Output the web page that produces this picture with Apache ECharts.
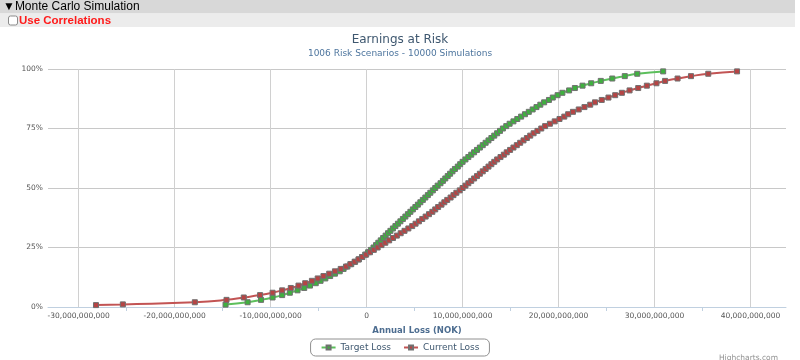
<!DOCTYPE html>
<html>
<head>
<meta charset="utf-8">
<script src="https://cdn.jsdelivr.net/npm/echarts@6/dist/echarts.min.js"></script>
<style>
html,body{margin:0;padding:0;background:#fff;}
#chart{width:800px;height:360px;}
</style>
</head>
<body>
<div id="chart"></div>
<script>
// Cumulative probability (%) and annual loss (billions NOK)
const targetPct = [1,2,3,4,5,6,7,8,9,10,11,12,13,14,15,16,17,18,19,20,21,22,23,24,25,26,27,28,29,30,31,32,33,34,35,36,37,38,39,40,41,42,43,44,45,46,47,48,49,50,51,52,53,54,55,56,57,58,59,60,61,62,63,64,65,66,67,68,69,70,71,72,73,74,75,76,77,78,79,80,81,82,83,84,85,86,87,88,89,90,91,92,93,94,95,96,97,98,99];
const targetLossBn = [-14.7,-12.4,-11.0,-9.8,-8.8,-8.0,-7.2,-6.5,-5.9,-5.3,-4.8,-4.3,-3.8,-3.3,-2.8,-2.4,-2.0,-1.6,-1.2,-0.8,-0.47,-0.15,0.15,0.45,0.72,0.98,1.22,1.47,1.72,1.98,2.23,2.48,2.74,3.0,3.26,3.52,3.78,4.04,4.3,4.56,4.82,5.08,5.34,5.6,5.86,6.12,6.38,6.64,6.9,7.15,7.4,7.7,7.95,8.2,8.45,8.7,8.95,9.2,9.5,9.75,10.0,10.3,10.6,10.9,11.2,11.5,11.8,12.1,12.4,12.7,13.0,13.3,13.6,13.9,14.2,14.55,14.9,15.3,15.7,16.1,16.5,16.9,17.3,17.7,18.1,18.5,19.0,19.4,19.9,20.4,21.1,21.7,22.5,23.4,24.4,25.6,26.9,28.2,30.9];

const currentPct = [0.8,1.1,2,3,4,5,6,7,8,9,10,11,12,13,14,15,16,17,18,19,20,21,22,23,24,25,26,27,28,29,30,31,32,33,34,35,36,37,38,39,40,41,42,43,44,45,46,47,48,49,50,51,52,53,54,55,56,57,58,59,60,61,62,63,64,65,66,67,68,69,70,71,72,73,74,75,76,77,78,79,80,81,82,83,84,85,86,87,88,89,90,91,92,93,94,95,96,97,98,99];
const currentLossBn = [-28.2,-25.4,-17.9,-14.6,-12.8,-11.1,-9.8,-8.8,-7.9,-7.1,-6.4,-5.7,-5.1,-4.5,-3.9,-3.3,-2.7,-2.15,-1.7,-1.25,-0.85,-0.45,-0.05,0.35,0.75,1.15,1.55,1.95,2.35,2.75,3.15,3.55,3.95,4.35,4.75,5.1,5.45,5.8,6.15,6.5,6.85,7.15,7.45,7.8,8.1,8.4,8.75,9.05,9.35,9.7,10.0,10.3,10.6,10.9,11.2,11.5,11.8,12.1,12.4,12.7,13.0,13.3,13.6,13.95,14.3,14.6,14.95,15.3,15.65,16.0,16.35,16.7,17.05,17.4,17.8,18.2,18.6,19.1,19.6,20.1,20.6,21.0,21.5,22.1,22.7,23.3,23.8,24.5,25.2,25.9,26.6,27.4,28.3,29.2,30.2,31.1,32.4,33.8,35.6,38.6];

const xTickMarksBn = [-25,-15,-5,5,15,25,35];

function pairs(xs, ys){ return xs.map((x,i)=>[x, ys[i]]); }
function fmtBn(v){
  if (v === 0) return '0';
  return (v < 0 ? '-' : '') + Math.abs(v) + ',000,000,000';
}

const X_MIN = -33.2, X_MAX = 43.7;
const chart = echarts.init(document.getElementById('chart'), null, {renderer:'canvas'});
const F = "'DejaVu Sans', Verdana, sans-serif";
const H = "'Liberation Sans', Arial, sans-serif";
chart.setOption({
  animation:false,
  backgroundColor:'#fff',
  title:{
    text:'Earnings at Risk',
    subtext:'1006 Risk Scenarios - 10000 Simulations',
    left:'center', top:34, itemGap:3, padding:0,
    textStyle:{fontFamily:F, fontSize:12, fontWeight:'normal', color:'#3E576F'},
    subtextStyle:{fontFamily:F, fontSize:9, color:'#4D759E'}
  },
  graphic:[
    {type:'rect', left:0, top:0, shape:{width:795, height:13.5}, style:{fill:'#d8d8d8'}},
    {type:'rect', left:0, top:14, shape:{width:795, height:13}, style:{fill:'#ececec'}},
    {type:'text', left:3, top:1, style:{text:'\u25BCMonte Carlo Simulation', fontFamily:H, fontSize:12, fill:'#000'}},
    {type:'rect', left:8, top:15.5, shape:{width:9, height:9, r:2}, style:{fill:'#fff', stroke:'#8a8a8a', lineWidth:1}},
    {type:'text', left:19, top:14.5, style:{text:'Use Correlations', fontFamily:H, fontWeight:'bold', fontSize:11.5, fill:'#ff1a1a'}},
    {type:'text', right:22, top:354, style:{text:'Highcharts.com', fontFamily:F, fontSize:7.5, fill:'#909090'}}
  ],
  legend:{
    left:'center', top:339,
    padding:[4,10], itemGap:12, itemWidth:14, itemHeight:5,
    borderColor:'#909090', borderWidth:1, borderRadius:5,
    textStyle:{fontFamily:F, fontSize:9, color:'#3E576F'},
    data:['Target Loss','Current Loss']
  },
  grid:{left:48, right:14, top:69, bottom:53, containLabel:false},
  xAxis:[{
    type:'value', min:X_MIN, max:X_MAX, splitNumber:8,
    name:'Annual Loss (NOK)', nameLocation:'middle', nameGap:19,
    nameTextStyle:{fontFamily:F, fontSize:8.5, fontWeight:'bold', color:'#4D6D90'},
    axisLine:{show:true, lineStyle:{color:'#C0D0E0', width:1}},
    axisTick:{show:false},
    axisLabel:{fontFamily:F, fontSize:7.5, color:'#555', margin:5, showMinLabel:false, showMaxLabel:false, formatter:fmtBn},
    splitLine:{show:true, showMinLine:false, showMaxLine:false, lineStyle:{color:'#d0d0d0', width:1}}
  },{
    type:'value', min:X_MIN, max:X_MAX, position:'bottom', gridIndex:0,
    axisLine:{show:false},
    axisTick:{show:true, length:4, lineStyle:{color:'#C0D0E0'}, customValues:xTickMarksBn},
    axisLabel:{show:false},
    splitLine:{show:false}
  }],
  yAxis:{
    type:'value', min:0, max:100, interval:25,
    axisLine:{show:false}, axisTick:{show:false},
    axisLabel:{fontFamily:F, fontSize:7.5, color:'#555', margin:5, formatter:'{value}%'},
    splitLine:{show:true, lineStyle:{color:'#C8C8C8', width:1}}
  },
  series:[
    {
      name:'Target Loss', type:'line', smooth:true, xAxisIndex:0,
      data:pairs(targetLossBn, targetPct),
      symbol:'rect', symbolSize:5,
      lineStyle:{color:'#5cbf5c', width:2},
      itemStyle:{color:'#3fb03f', borderColor:'#707070', borderWidth:1}
    },
    {
      name:'Current Loss', type:'line', smooth:true, xAxisIndex:0,
      data:pairs(currentLossBn, currentPct),
      symbol:'rect', symbolSize:5,
      lineStyle:{color:'#c25454', width:2},
      itemStyle:{color:'#b64444', borderColor:'#707070', borderWidth:1}
    }
  ]
});
</script>
</body>
</html>
